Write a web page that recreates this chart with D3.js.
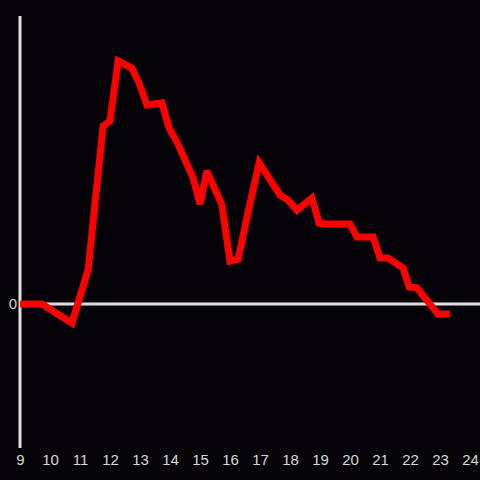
<!DOCTYPE html>
<html>
<head>
<meta charset="utf-8">
<script src="https://cdn.jsdelivr.net/npm/d3@7"></script>
<style>
  html, body { margin: 0; padding: 0; background: #050308; }
  svg { display: block; }
</style>
</head>
<body>
<div id="chart"></div>
<script>
// hours of day (decimal) and values
var hours = [9, 9.73, 10.73, 11.27, 11.77, 12.0, 12.27, 12.73, 12.97, 13.23, 13.73, 13.97, 14.23, 14.77, 15.0,
  15.23, 15.73, 16.0, 16.27, 16.67, 16.97, 17.67, 17.93, 18.23, 18.73, 18.97, 19.2, 20.0, 20.23, 20.77,
  21.0, 21.27, 21.77, 21.97, 22.23, 22.93, 23.33];
var values = [0, 0, -0.66, 1.18, 6.18, 6.35, 8.44, 8.19, 7.67, 6.91, 6.98, 6.11, 5.63, 4.38, 3.47,
  4.62, 3.44, 1.49, 1.56, 3.51, 4.9, 3.78, 3.61, 3.26, 3.68, 2.81, 2.78, 2.78, 2.33, 2.33,
  1.6, 1.6, 1.25, 0.59, 0.56, -0.35, -0.35];
var xTicks = [9, 10, 11, 12, 13, 14, 15, 16, 17, 18, 19, 20, 21, 22, 23, 24];
var yTicks = [0];

var w = 480, h = 480;
var marginLeft = 20, marginTop = 16, marginBottom = 32;

var data = hours.map(function(t, i) { return {t: t, v: values[i]}; });

var svg = d3.select("#chart").append("svg")
    .attr("width", w)
    .attr("height", h)
    .style("font-family", "'Liberation Sans', Arial, sans-serif");

svg.append("rect").attr("width", w).attr("height", h).attr("fill", "#050308");

var xScale = d3.scaleLinear().domain([9, 24]).range([marginLeft, marginLeft + 450]);
var yScale = d3.scaleLinear().domain([-5, 10]).range([h - marginBottom, marginTop]);

// bottom tick labels (no line)
var xAxis = d3.axisBottom(xScale).tickValues(xTicks).tickSize(0).tickPadding(6).tickFormat(d3.format("d"));
var gx = svg.append("g")
    .attr("transform", "translate(0," + (h - marginBottom) + ")")
    .call(xAxis);
gx.select(".domain").remove();
gx.selectAll("text").attr("fill", "#d8d8d8").style("font-size", "15px");

// left axis: only the zero label
var yAxis = d3.axisLeft(yScale).tickValues(yTicks).tickSize(0).tickPadding(3);
var gy = svg.append("g")
    .attr("transform", "translate(" + marginLeft + ",0)")
    .call(yAxis);
gy.select(".domain").remove();
gy.selectAll("text").attr("fill", "#d8d8d8").style("font-size", "15px");

// vertical axis line
svg.append("line")
    .attr("x1", xScale(9)).attr("x2", xScale(9))
    .attr("y1", yScale(10)).attr("y2", yScale(-5))
    .attr("stroke", "#e0e0e0").attr("stroke-width", 3);

// zero line
svg.append("line")
    .attr("x1", xScale(9)).attr("x2", w)
    .attr("y1", yScale(0)).attr("y2", yScale(0))
    .attr("stroke", "#e0e0e0").attr("stroke-width", 3);

var line = d3.line()
    .x(function(d) { return xScale(d.t); })
    .y(function(d) { return yScale(d.v); });

svg.append("path")
    .datum(data)
    .attr("d", line)
    .attr("fill", "none")
    .attr("stroke", "#ff0000")
    .attr("stroke-width", 7)
    .attr("stroke-linejoin", "miter")
    .attr("stroke-miterlimit", 3);
</script>
</body>
</html>
